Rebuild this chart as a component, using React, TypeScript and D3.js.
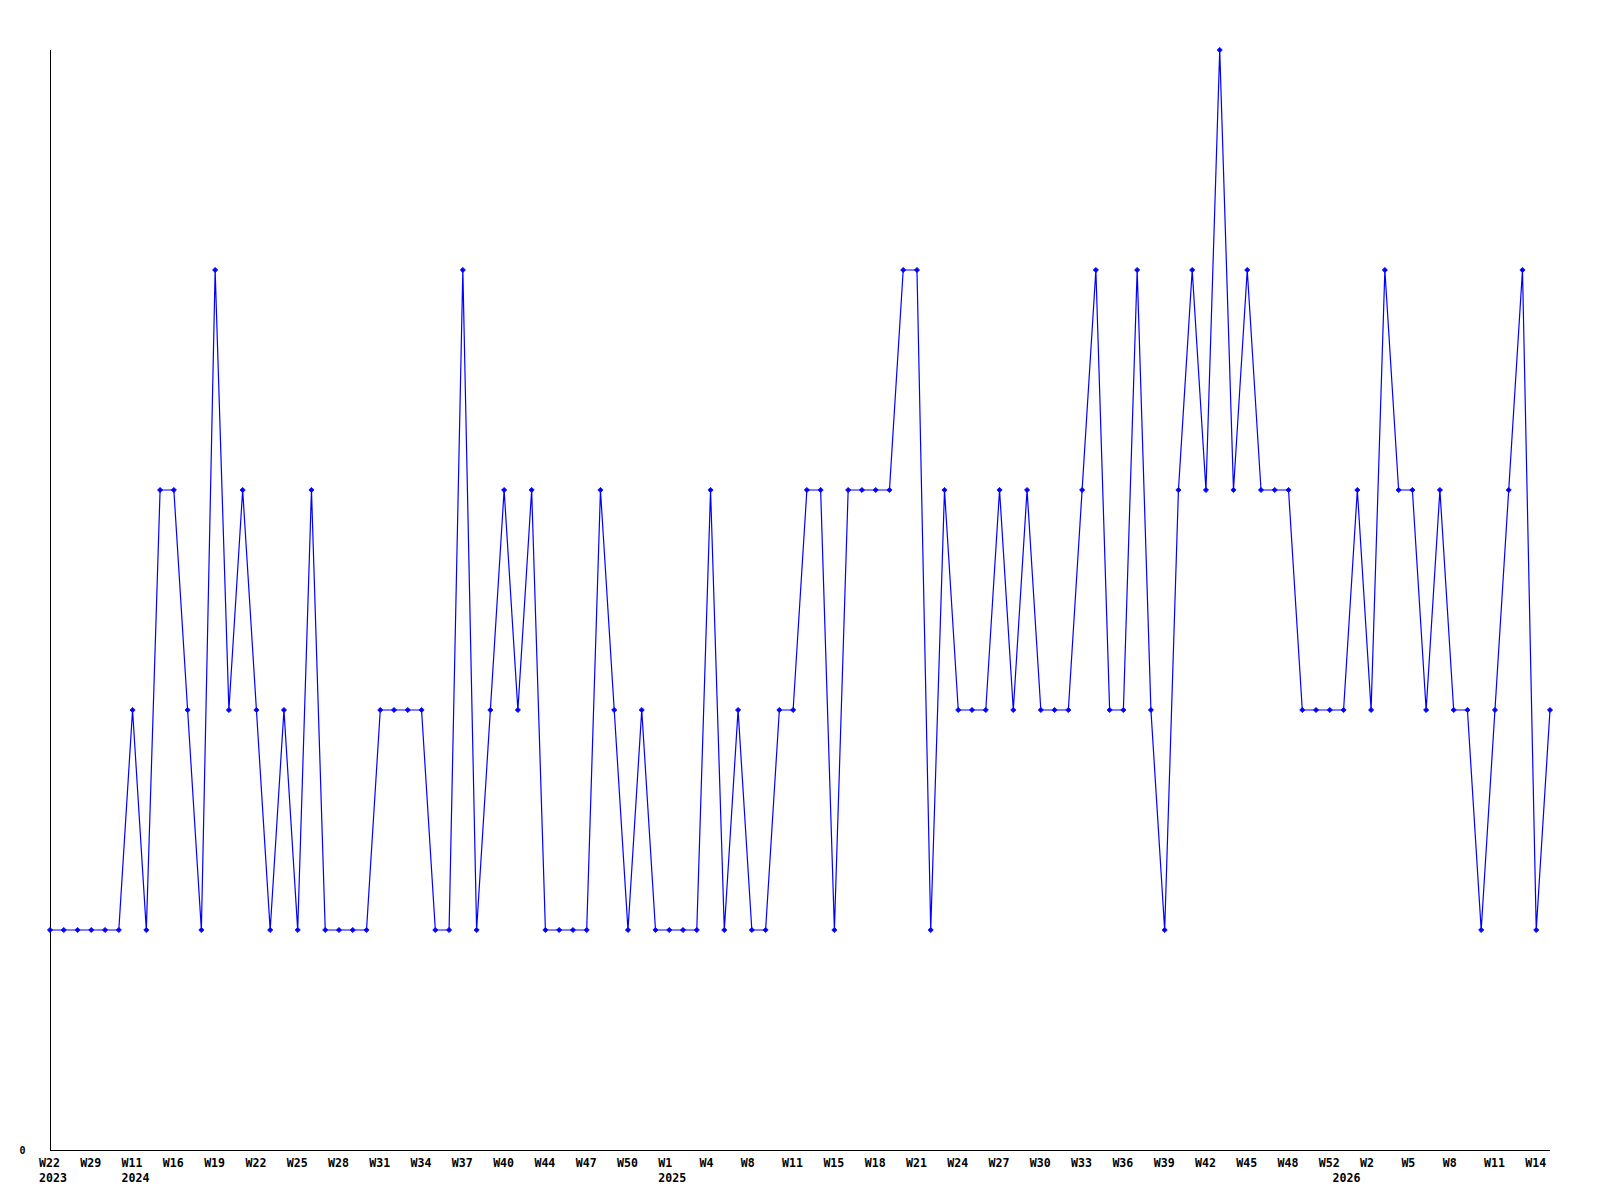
import React from "react";
import * as d3 from "d3";

// Weekly counts (one point per week shown on the chart)
const values: number[] = [
  1, 1, 1, 1, 1, 1, 2, 1, 3, 3,
  2, 1, 4, 2, 3, 2, 1, 2, 1, 3,
  1, 1, 1, 1, 2, 2, 2, 2, 1, 1,
  4, 1, 2, 3, 2, 3, 1, 1, 1, 1,
  3, 2, 1, 2, 1, 1, 1, 1, 3, 1,
  2, 1, 1, 2, 2, 3, 3, 1, 3, 3,
  3, 3, 4, 4, 1, 3, 2, 2, 2, 3,
  2, 3, 2, 2, 2, 3, 4, 2, 2, 4,
  2, 1, 3, 4, 3, 5, 3, 4, 3, 3,
  3, 2, 2, 2, 2, 3, 2, 4, 3, 3,
  2, 3, 2, 2, 1, 2, 3, 4, 1, 2,
];

// Tick labels, one every 3 points
const weekLabels: string[] = [
  "W22", "W29", "W11", "W16", "W19", "W22", "W25", "W28", "W31", "W34",
  "W37", "W40", "W44", "W47", "W50", "W1", "W4", "W8", "W11", "W15",
  "W18", "W21", "W24", "W27", "W30", "W33", "W36", "W39", "W42", "W45",
  "W48", "W52", "W2", "W5", "W8", "W11", "W14",
];
// Year labels and the point index where each year starts
const yearLabels: string[] = ["2023", "2024", "2025", "2026"];
const yearStartIndex: number[] = [0, 6, 45, 94];
const labelEvery = 3;
const yMax = 5;

export default function App() {
  const width = 1600;
  const height = 1200;
  const left = 50;
  const right = 1550;
  const top = 50;
  const bottom = 1150;

  const x = d3
    .scaleLinear()
    .domain([0, values.length - 1])
    .range([left, right]);
  const y = d3.scaleLinear().domain([0, yMax]).range([bottom, top]);

  const line = d3
    .line<number>()
    .x((_, i) => x(i))
    .y((d) => y(d));

  const font = "'DejaVu Sans Mono', 'Liberation Mono', monospace";
  const labelOffset = 11;

  return (
    <svg
      width={width}
      height={height}
      style={{ position: "absolute", left: 0, top: 0, background: "#fff" }}
    >
      <line x1={left + 0.5} y1={top} x2={left + 0.5} y2={bottom + 0.5} stroke="#000" strokeWidth={1} />
      <line x1={left} y1={bottom + 0.5} x2={right} y2={bottom + 0.5} stroke="#000" strokeWidth={1} />
      <path d={line(values) || ""} fill="none" stroke="#0000ff" strokeWidth={1.2} />
      {values.map((v, i) => {
        const cx = x(i);
        const cy = y(v);
        const r = 2.6;
        return (
          <path
            key={i}
            d={`M${cx},${cy - r}L${cx + r},${cy}L${cx},${cy + r}L${cx - r},${cy}Z`}
            fill="#0000ff"
            stroke="#0000ff"
            strokeWidth={0.8}
          />
        );
      })}
      <text
        x={22.5}
        y={1154}
        textAnchor="middle"
        fontFamily={font}
        fontWeight="bold"
        fontSize={10}
        fill="#000"
      >
        0
      </text>
      {weekLabels.map((w, k) => (
        <text
          key={k}
          x={x(k * labelEvery) - labelOffset}
          y={1167}
          fontFamily={font}
          fontWeight="bold"
          fontSize={11.6}
          fill="#000"
        >
          {w}
        </text>
      ))}
      {yearLabels.map((yl, k) => (
        <text
          key={"y" + k}
          x={x(yearStartIndex[k]) - labelOffset}
          y={1181.5}
          fontFamily={font}
          fontWeight="bold"
          fontSize={11.6}
          fill="#000"
        >
          {yl}
        </text>
      ))}
    </svg>
  );
}
